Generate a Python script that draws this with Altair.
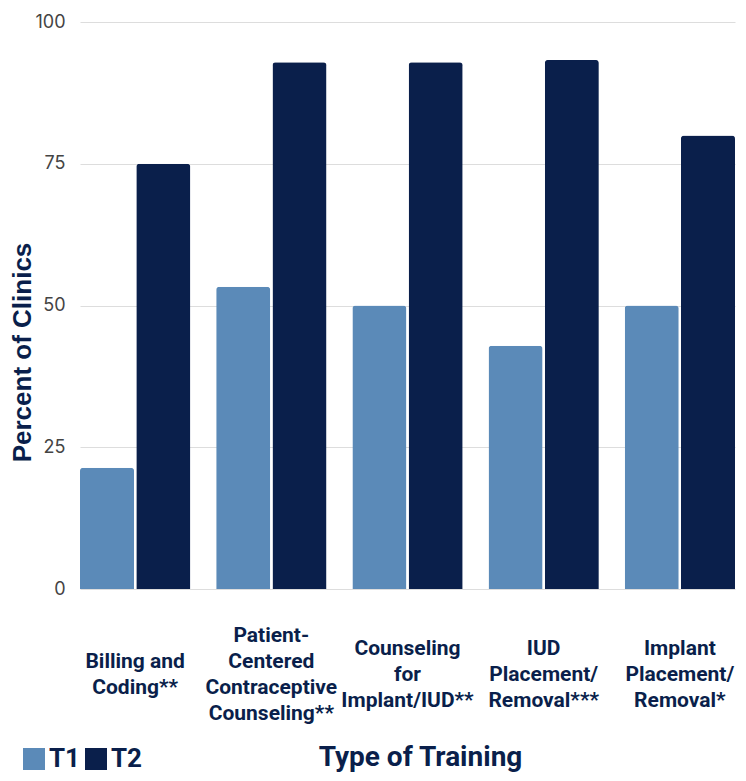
import altair as alt
import pandas as pd

categories = [
    "Billing and\nCoding**",
    "Patient-\nCentered\nContraceptive\nCounseling**",
    "Counseling\nfor\nImplant/IUD**",
    "IUD\nPlacement/\nRemoval***",
    "Implant\nPlacement/\nRemoval*",
]
t1_values = [21.4, 53.3, 50.0, 42.9, 50.0]
t2_values = [75.0, 92.9, 92.9, 93.3, 80.0]
series = ["T1", "T2"]
colors = ["#5b8ab8", "#0a1f4b"]
y_ticks = [0, 25, 50, 75, 100]

rows = []
for c, a, b in zip(categories, t1_values, t2_values):
    rows.append({"training": c, "period": "T1", "pct": a})
    rows.append({"training": c, "period": "T2", "pct": b})
df = pd.DataFrame(rows)

lab_df = pd.DataFrame({
    "training": categories,
    "n": [len(c.split("\n")) for c in categories],
})

navy = "#0a1f4b"
LINE_H = 26

x_scale = alt.Scale(type="band", paddingInner=0.19, paddingOuter=0)

bars = alt.Chart(df).mark_bar(cornerRadiusTopLeft=3, cornerRadiusTopRight=3).encode(
    x=alt.X(
        "training:N",
        sort=categories,
        scale=x_scale,
        axis=alt.Axis(
            title="Type of Training",
            labels=False,
            ticks=False,
            domain=False,
            titleFont="Roboto",
            titleFontWeight="bold",
            titleFontSize=28,
            titleColor=navy,
            titleX=340,
            titleY=168,
            titleAlign="center",
            titleBaseline="middle",
        ),
    ),
    xOffset=alt.XOffset("period:N", sort=series, scale=alt.Scale(paddingInner=0.04)),
    y=alt.Y(
        "pct:Q",
        scale=alt.Scale(domain=[0, 100]),
        axis=alt.Axis(
            title="Percent of Clinics",
            values=y_ticks,
            labelFont="Inter",
            labelFontSize=18,
            labelColor="#444444",
            labelPadding=15,
            ticks=False,
            domain=False,
            gridColor="#dddddd",
            titleFont="Liberation Sans",
            titleFontWeight="bold",
            titleFontSize=26,
            titleColor=navy,
            titleAngle=270,
            titleX=-58,
            titleY=330,
            titleAlign="center",
            titleBaseline="middle",
        ),
    ),
    color=alt.Color(
        "period:N",
        sort=series,
        scale=alt.Scale(domain=series, range=colors),
        legend=alt.Legend(
            title=None,
            orient="none",
            direction="horizontal",
            legendX=-59,
            legendY=724,
            symbolType="square",
            symbolSize=484,
            symbolStrokeWidth=0,
            symbolOpacity=1,
            labelFont="Roboto",
            labelFontWeight="bold",
            labelFontSize=26,
            labelColor=navy,
            labelOffset=2,
            columnPadding=2,
        ),
    ),
)

layers = [bars]
for n in sorted(set(lab_df["n"])):
    layers.append(
        alt.Chart(lab_df)
        .transform_filter(alt.datum.n == n)
        .mark_text(
            font="Roboto",
            fontWeight="bold",
            fontSize=21,
            color=navy,
            lineBreak="\n",
            lineHeight=LINE_H,
            baseline="middle",
            align="center",
            dy=-(n - 1) * LINE_H / 2,
        )
        .encode(
            x=alt.X("training:N", sort=categories, scale=x_scale),
            y=alt.value(653),
            text="training:N",
        )
    )

chart = alt.layer(*layers).properties(
    width=655,
    height=567,
    padding={"left": 72, "top": 14, "right": 3, "bottom": 184},
    autosize=alt.AutoSizeParams(type="none"),
).configure_view(stroke=None)

chart.save("out.html", embed_options={"renderer": "svg", "actions": False})
